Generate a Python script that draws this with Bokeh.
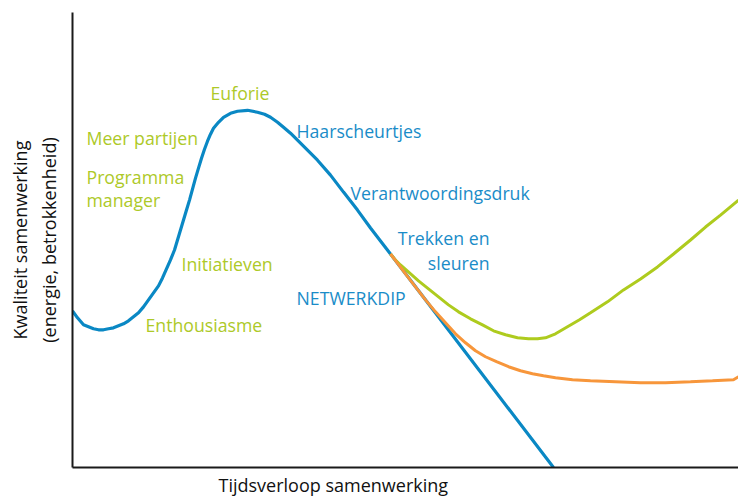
from bokeh.plotting import figure
from bokeh.models import Range1d, Title
from bokeh.core.properties import value
from bokeh.embed import file_html
from bokeh.resources import INLINE

# Curves (time on x, quality on y)
blue_x = [0, 5, 11, 16, 21, 26, 31, 36, 41, 46, 51, 56, 61, 66, 71, 76, 81, 86, 90, 94, 98, 102, 105, 108, 111,
          114, 117, 120, 123, 126, 129, 132, 135, 138, 141,
          146, 151, 158, 165, 175, 185, 192, 198, 205, 211, 218, 225, 235, 245, 258, 271, 285,
          298, 318, 481]
blue_y = [157, 150, 143, 141, 139, 138, 138, 139, 140, 142, 144, 147, 151, 155, 161, 168, 175, 182, 190, 199, 208, 218, 228, 238, 248,
          258, 268, 279, 290, 300, 310, 319, 327, 334, 340,
          346, 351, 355, 357, 358, 356, 354, 351, 346, 341, 335, 328, 318, 308, 293, 276, 258,
          240, 214, 0]

green_x = [318, 322, 328, 337, 346, 356, 366, 376, 386, 398, 410, 421, 433, 445, 456, 465, 473,
           483, 495, 507, 518, 535, 551, 568, 585, 601, 618, 633, 648, 666]
green_y = [214, 209, 203, 195, 187, 179, 171, 163, 156, 149, 143, 137, 133, 130, 129, 129, 130,
           134, 141, 148, 155, 166, 178, 189, 201, 214, 228, 241, 253, 268]

orange_x = [318, 333, 353, 363, 373, 383, 393, 403, 413, 424, 436, 448, 460, 471, 483, 500, 518,
            543, 568, 593, 618, 640, 661, 666]
orange_y = [214, 194, 168, 156, 145, 134, 125, 117, 111, 106, 101, 97, 94, 92, 90, 88, 87,
            86, 85, 85, 86, 87, 88, 91]

green_labels = ["Euforie", "Meer partijen", "Programma", "manager", "Initiatieven", "Enthousiasme"]
blue_labels = ["Haarscheurtjes", "Verantwoordingsdruk", "NETWERKDIP"]
blue_right_labels = ["Trekken en", "sleuren"]
x_title = "Tijdsverloop samenwerking"
y_title = "Kwaliteit samenwerking\n(energie, betrokkenheid)"

# label placement (layout only)
green_lx = [138, 14, 14, 14, 109, 73]
green_ly = [375, 330, 291, 268, 204, 143]
blue_lx = [224, 278, 224]
blue_ly = [337, 275, 170]
blue_rx = [417, 417]
blue_ry = [230, 205]

BLUE = "#0A88C4"
GREEN = "#AECB1E"
ORANGE = "#F7963B"
TBLUE = "#1A8CC8"
TGREEN = "#ADC928"
FONT = "Open Sans"
FS = "17.7px"

p = figure(width=738, height=499, output_backend="svg", toolbar_location=None,
           x_range=Range1d(0, 666), y_range=Range1d(0, 456),
           min_border_left=72, min_border_right=0, min_border_top=12, min_border_bottom=0)
p.outline_line_color = None
p.xgrid.visible = False
p.ygrid.visible = False
p.background_fill_color = "white"
p.border_fill_color = "white"

for ax in (p.xaxis[0], p.yaxis[0]):
    ax.ticker = []
    ax.major_tick_line_color = None
    ax.minor_tick_line_color = None
    ax.major_label_text_font_size = "0px"
    ax.axis_line_color = "#1a1a1a"
    ax.axis_line_width = 2
    ax.axis_label_text_font = FONT
    ax.axis_label_text_font_style = "normal"
    ax.axis_label_text_font_size = "18px"
    ax.axis_label_text_color = "#111111"

p.yaxis.axis_label = y_title
p.yaxis.axis_label_standoff = 12

t = Title(text=x_title, align="left", offset=146, text_font=FONT, text_font_size="18px",
          text_font_style="normal", text_color="#111111", standoff=6)
p.add_layout(t, "below")

p.line(blue_x, blue_y, line_color=BLUE, line_width=3.2)
p.line(green_x, green_y, line_color=GREEN, line_width=3)
p.line(orange_x, orange_y, line_color=ORANGE, line_width=3)

p.text(x=green_lx, y=green_ly, text=green_labels, text_color=TGREEN,
       text_font=value(FONT), text_font_size=FS, text_baseline="middle", text_align="left")
p.text(x=blue_lx, y=blue_ly, text=blue_labels, text_color=TBLUE,
       text_font=value(FONT), text_font_size=FS, text_baseline="middle", text_align="left")
p.text(x=blue_rx, y=blue_ry, text=blue_right_labels, text_color=TBLUE,
       text_font=value(FONT), text_font_size=FS, text_baseline="middle", text_align="right")

open("out.html", "w").write(file_html(p, INLINE))
